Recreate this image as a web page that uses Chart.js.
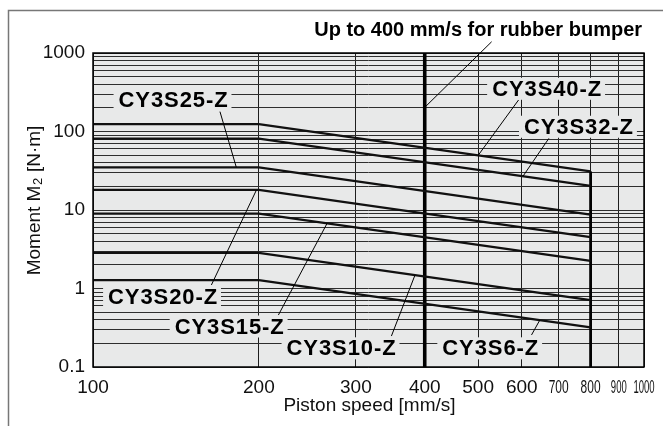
<!DOCTYPE html>
<html lang="en">
  <head>
    <meta charset="UTF-8" />
    <title>Moment M2</title>
    <script src="https://cdn.jsdelivr.net/npm/chart.js"></script>
    <style>
      body {
        margin: 0;
        background: #fff;
      }
    </style>
  </head>
  <body>
    <canvas id="myChart" width="663" height="426"></canvas>
    <script>
      // piston speed [mm/s] -> allowable moment M2 [N·m]
      const speeds = [100, 200, 800];
      const cy3s40 = [124, 124, 31];
      const cy3s32 = [81, 81, 20.3];
      const cy3s25 = [35, 35, 8.75];
      const cy3s20 = [18, 18, 4.5];
      const cy3s15 = [9, 9, 2.25];
      const cy3s10 = [2.85, 2.85, 0.71];
      const cy3s6 = [1.28, 1.28, 0.32];

      // vertical limit lines: rubber bumper (400) and max speed (800)
      const limitSpeeds = [400, 800];
      const limitTops = [1000, 31];

      const xTicks = [100, 200, 300, 400, 500, 600, 700, 800, 900, 1000];
      const yTickLabels = [0.1, 1, 10, 100, 1000];
      const yMinor = [1, 2, 3, 4, 5, 6, 7, 8, 9];

      const yGrid = [];
      yTickLabels.slice(0, -1).forEach(function (d) {
        yMinor.forEach(function (k) {
          yGrid.push(Number((d * k).toPrecision(3)));
        });
      });
      yGrid.push(1000);

      const FONT = '"Liberation Sans", Arial, sans-serif';
      const PLOT_BG = "#e8e9e9";

      const pts = function (ys) {
        return speeds.map(function (x, i) {
          return { x: x, y: ys[i] };
        });
      };

      const series = [cy3s40, cy3s32, cy3s25, cy3s20, cy3s15, cy3s10, cy3s6];
      const datasets = series.map(function (ys) {
        return {
          data: pts(ys),
          borderColor: "#111",
          borderWidth: 2.3,
          pointRadius: 0,
          showLine: true,
        };
      });
      limitSpeeds.forEach(function (s, i) {
        datasets.push({
          data: [
            { x: s, y: 0.1 },
            { x: s, y: limitTops[i] },
          ],
          borderColor: "#000",
          borderWidth: i === 0 ? 3.6 : 2.8,
          pointRadius: 0,
          showLine: true,
        });
      });

      // labels with leader lines, placed in data coordinates
      const notes = [
        { text: "Up to 400 mm/s for rubber bumper", at: [500, 2000], from: [529, 1390], to: [400, 203], size: 20, spacing: 0, box: false },
        { text: "CY3S40-Z", at: [667, 350], from: [592, 252], to: [500, 49.6] },
        { text: "CY3S32-Z", at: [762, 115], from: [672, 81.8], to: [603, 26.9] },
        { text: "CY3S25-Z", at: [140, 253], from: [170, 179], to: [182, 35] },
        { text: "CY3S20-Z", at: [134, 0.78], from: [164, 1.108], to: [198, 18] },
        { text: "CY3S15-Z", at: [177, 0.328], from: [217, 0.459], to: [266, 6.77] },
        { text: "CY3S10-Z", at: [282.5, 0.173], from: [348, 0.248], to: [384, 1.48] },
        { text: "CY3S6-Z", at: [527, 0.173], from: [625, 0.256], to: [647, 0.396] },
      ];

      // narrow numbers at the right end of the speed axis
      const squeeze = { 700: 0.63, 800: 0.63, 900: 0.5, 1000: 0.5 };

      const paper = {
        id: "paper",
        beforeDraw(chart) {
          const { ctx, chartArea: a } = chart;
          ctx.save();
          ctx.fillStyle = "#fff";
          ctx.fillRect(0, 0, chart.width, chart.height);
          ctx.strokeStyle = "#777";
          ctx.lineWidth = 1.5;
          ctx.strokeRect(8.5, 10.5, chart.width, chart.height);
          ctx.fillStyle = PLOT_BG;
          ctx.fillRect(a.left, a.top, a.right - a.left, a.bottom - a.top);
          ctx.restore();
        },
        afterDatasetsDraw(chart) {
          const { ctx, chartArea: a } = chart;
          const xs = chart.scales.x;
          const ys = chart.scales.y;
          ctx.save();

          // plot frame
          ctx.strokeStyle = "#000";
          ctx.lineWidth = 1.5;
          ctx.strokeRect(a.left, a.top, a.right - a.left, a.bottom - a.top);

          // leaders + labels
          notes.forEach(function (n) {
            const px = xs.getPixelForValue(n.at[0]);
            const py = ys.getPixelForValue(n.at[1]);
            ctx.strokeStyle = "#000";
            ctx.lineWidth = 1;
            ctx.beginPath();
            ctx.moveTo(xs.getPixelForValue(n.from[0]), ys.getPixelForValue(n.from[1]));
            ctx.lineTo(xs.getPixelForValue(n.to[0]), ys.getPixelForValue(n.to[1]));
            ctx.stroke();

            ctx.font = "bold " + (n.size || 22) + "px " + FONT;
            ctx.letterSpacing = (n.spacing === undefined ? 0.9 : n.spacing) + "px";
            const w = ctx.measureText(n.text).width;
            if (n.box !== false) {
              ctx.fillStyle = PLOT_BG;
              ctx.fillRect(px - w / 2 - 5, py - 11, w + 8, 22);
            }
            ctx.fillStyle = "#000";
            ctx.textAlign = "left";
            ctx.textBaseline = "middle";
            ctx.fillText(n.text, px - w / 2, py + 1);
          });
          ctx.letterSpacing = "0px";

          // speed tick labels
          ctx.font = "19px " + FONT;
          ctx.fillStyle = "#111";
          ctx.textAlign = "center";
          ctx.textBaseline = "middle";
          xTicks.forEach(function (v) {
            const k = squeeze[v] || 1;
            ctx.save();
            ctx.translate(xs.getPixelForValue(v), a.bottom + 21);
            ctx.scale(k, 1);
            ctx.fillText(String(v), 0, 0);
            ctx.restore();
          });

          // axis titles
          ctx.fillText("Piston speed [mm/s]", (a.left + a.right) / 2 + 1, a.bottom + 39);

          ctx.save();
          ctx.translate(35, 201);
          ctx.rotate(-Math.PI / 2);
          const p1 = "Moment M";
          const p2 = "2";
          const p3 = " [N·m]";
          ctx.font = "19px " + FONT;
          const w1 = ctx.measureText(p1).width;
          const w3 = ctx.measureText(p3).width;
          ctx.font = "13px " + FONT;
          const w2 = ctx.measureText(p2).width;
          let x0 = -(w1 + w2 + w3) / 2;
          ctx.textAlign = "left";
          ctx.font = "19px " + FONT;
          ctx.fillText(p1, x0, 0);
          ctx.font = "13px " + FONT;
          ctx.fillText(p2, x0 + w1 + 0.5, 3);
          ctx.font = "19px " + FONT;
          ctx.fillText(p3, x0 + w1 + w2 + 1, 0);
          ctx.restore();

          ctx.restore();
        },
      };

      const ctx = document.getElementById("myChart");
      const myChart = new Chart(ctx, {
        type: "scatter",
        data: { datasets: datasets },
        options: {
          responsive: false,
          animation: false,
          layout: { padding: { top: 53, right: 19, left: 0, bottom: 0 } },
          plugins: { legend: { display: false }, tooltip: { enabled: false } },
          scales: {
            x: {
              type: "logarithmic",
              min: 100,
              max: 1000,
              afterBuildTicks: function (scale) {
                scale.ticks = xTicks.map(function (v) {
                  return { value: v };
                });
              },
              afterFit: function (scale) {
                scale.height = 59;
              },
              ticks: { display: false, autoSkip: false },
              grid: { color: "#1e1e1e", lineWidth: 1, drawTicks: false },
              border: { display: false },
            },
            y: {
              type: "logarithmic",
              min: 0.1,
              max: 1000,
              afterBuildTicks: function (scale) {
                scale.ticks = yGrid.map(function (v) {
                  return { value: v };
                });
              },
              afterFit: function (scale) {
                scale.width = 93;
              },
              ticks: {
                autoSkip: false,
                padding: 8,
                color: "#111",
                font: { family: FONT, size: 19 },
                callback: function (value) {
                  return yTickLabels.includes(value) ? String(value) : "";
                },
              },
              grid: { color: "#2e2e2e", lineWidth: 1, drawTicks: false },
              border: { display: false },
            },
          },
        },
        plugins: [paper],
      });
    </script>
  </body>
</html>
